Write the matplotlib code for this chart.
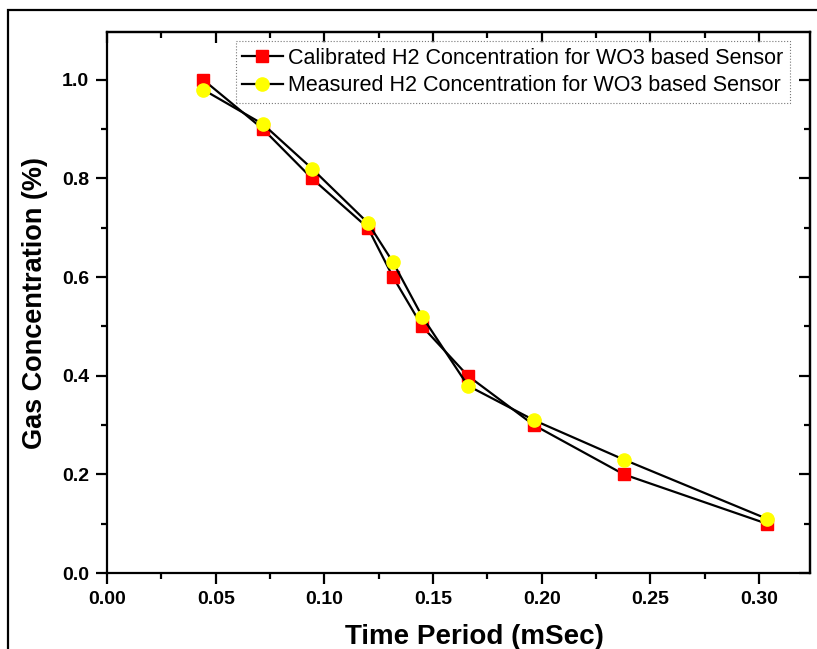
import matplotlib
matplotlib.use("Agg")
import matplotlib.pyplot as plt
from matplotlib.patches import Rectangle
from matplotlib.ticker import MultipleLocator, FormatStrFormatter

plt.rcParams['font.family'] = ['Liberation Sans', 'DejaVu Sans']

# Response time vs. gas concentration for the WO3 sensor
time_ms = [0.0443, 0.0718, 0.0943, 0.1200, 0.1316, 0.1450, 0.1660, 0.1964, 0.2378, 0.3036]
calibrated = [1.00, 0.90, 0.80, 0.70, 0.60, 0.50, 0.40, 0.30, 0.20, 0.10]
measured = [0.98, 0.91, 0.82, 0.71, 0.63, 0.52, 0.38, 0.31, 0.23, 0.11]

label_cal = "Calibrated H2 Concentration for WO3 based Sensor"
label_meas = "Measured H2 Concentration for WO3 based Sensor"

fig = plt.figure(figsize=(8.17, 6.49), dpi=100)
ax = fig.add_axes([0.131, 0.117, 0.8604, 0.8337])

ax.plot(time_ms, calibrated, color='black', lw=1.6, marker='s', ms=8,
        mfc='#ff0000', mec='#ff0000', label=label_cal, zorder=3)
ax.plot(time_ms, measured, color='black', lw=1.6, marker='o', ms=9.5,
        mfc='#ffff00', mec='#ffff00', label=label_meas, zorder=4)

ax.set_xlim(0.0, 0.3234)
ax.set_ylim(0.0, 1.097)
ax.xaxis.set_major_locator(MultipleLocator(0.05))
ax.xaxis.set_minor_locator(MultipleLocator(0.025))
ax.yaxis.set_major_locator(MultipleLocator(0.2))
ax.yaxis.set_minor_locator(MultipleLocator(0.1))
ax.xaxis.set_major_formatter(FormatStrFormatter('%.2f'))
ax.yaxis.set_major_formatter(FormatStrFormatter('%.1f'))

for s in ax.spines.values():
    s.set_linewidth(1.6)

ax.tick_params(which='major', direction='out', length=8, width=1.6,
               labelsize=14, pad=5)
ax.tick_params(which='minor', direction='out', length=4.5, width=1.6)
for lab in ax.get_xticklabels() + ax.get_yticklabels():
    lab.set_fontweight('bold')

# inward mirror ticks on the top and right edges
top = ax.secondary_xaxis('top')
top.xaxis.set_major_locator(MultipleLocator(0.05))
top.xaxis.set_minor_locator(MultipleLocator(0.025))
top.tick_params(which='major', direction='in', length=8, width=1.6, labeltop=False)
top.tick_params(which='minor', direction='in', length=4.5, width=1.6)
right = ax.secondary_yaxis('right')
right.yaxis.set_major_locator(MultipleLocator(0.2))
right.yaxis.set_minor_locator(MultipleLocator(0.1))
right.tick_params(which='major', direction='in', length=8, width=1.6, labelright=False)
right.tick_params(which='minor', direction='in', length=4.5, width=1.6)
for sec in (top, right):
    for s in sec.spines.values():
        s.set_linewidth(1.6)

ax.set_xlabel("Time Period (mSec)", fontsize=20, fontweight='bold')
ax.xaxis.set_label_coords(0.523, -0.118)
ax.xaxis.label.set_va('center')
ax.set_ylabel("Gas Concentration (%)", fontsize=19.5, fontweight='bold', labelpad=10)

leg = ax.legend(loc='upper right', bbox_to_anchor=(0.9716, 0.983), borderaxespad=0,
                fontsize=15.5, frameon=True, fancybox=False, handlelength=1.9,
                handletextpad=0.25, borderpad=0.3, labelspacing=0.3)
leg.get_frame().set_edgecolor('#555555')
leg.get_frame().set_linewidth(0.8)
leg.get_frame().set_linestyle(':')

# outer frame around the figure
fig.patches.append(Rectangle((8 / 817, -0.1), 1.2, 1.1 - 10 / 649, transform=fig.transFigure,
                             fill=False, edgecolor='black', linewidth=1.6))

fig.savefig("out.png", dpi=100)
